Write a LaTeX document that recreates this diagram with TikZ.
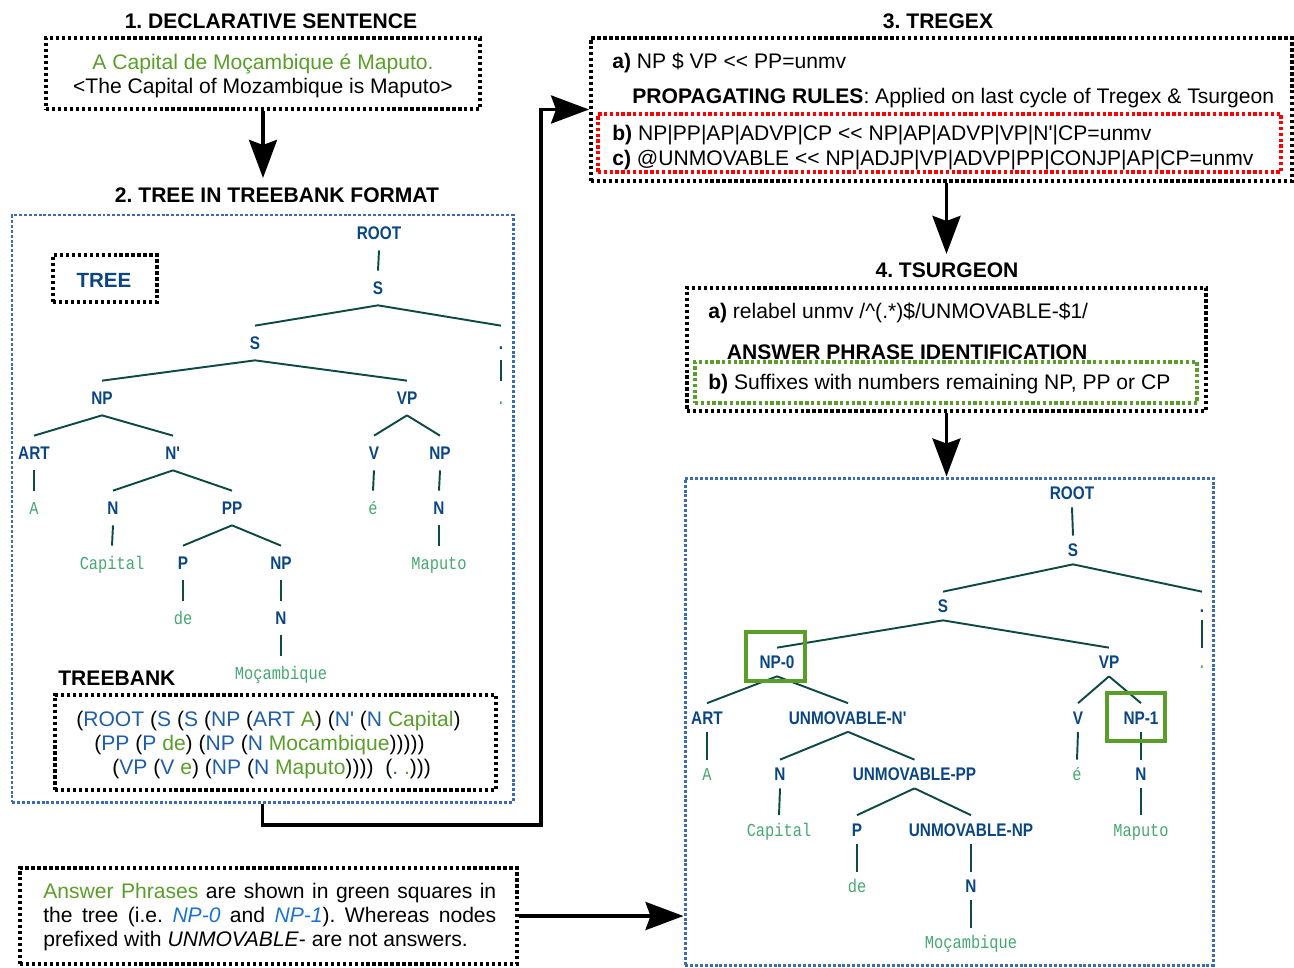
\documentclass[tikz,border=0pt]{standalone}
\usepackage{fontspec}
\setmainfont{Liberation Sans}
\newfontfamily\treefont{Liberation Sans}[FakeStretch=0.84]
\newfontfamily\leaffont{Liberation Mono}[FakeStretch=0.84]
\usetikzlibrary{arrows.meta,positioning}
\frenchspacing

\definecolor{tbblue}{HTML}{0B4684}
\definecolor{leafgreen}{HTML}{45A870}
\definecolor{edgeteal}{HTML}{0E4A44}
\definecolor{ansgreen}{HTML}{5A9E2A}
\definecolor{bankblue}{HTML}{1F5EA8}
\definecolor{boxblue}{HTML}{3A6CB4}
\definecolor{italblue}{HTML}{1A73D0}

\newcommand\apos{\XeTeXglyph\XeTeXcharglyph"27\relax}
\newcommand\tbl[1]{\textcolor{bankblue}{#1}}
\newcommand\tbw[1]{\textcolor{ansgreen}{#1}}

\tikzset{
  blkdot/.style={draw=black, line width=2.2pt, dash pattern=on 1.9pt off 1.5pt},
  bludot/.style={draw=boxblue, line width=1.7pt, dash pattern=on 1.7pt off 1.1pt},
  reddot/.style={draw=red, line width=1.9pt, dash pattern=on 1.9pt off 1.4pt},
  grndot/.style={draw=ansgreen, line width=1.9pt, dash pattern=on 1.9pt off 1.4pt},
  boxsize/.style 2 args={inner sep=0, minimum width=#1*0.02cm, minimum height=#2*0.02cm},
  txt/.style={inner sep=0, font=\fontsize{12}{14.4}\selectfont},
  heading/.style={inner sep=0, font=\fontsize{12}{14.4}\selectfont\bfseries},
  tnode/.style={inner sep=0, text height=7.4pt, text depth=0pt, minimum height=#1},
  tlab/.style={tnode=#1, font=\treefont\bfseries\fontsize{10.4}{12}\selectfont, text=tbblue},
  tleaf/.style={tnode=#1, font=\leaffont\fontsize{10.4}{12}\selectfont, text=leafgreen},
  lt/.style={tlab=0.68cm}, ll/.style={tleaf=0.68cm},
  rt/.style={tlab=0.56cm}, rl/.style={tleaf=0.56cm},
  tedge/.style={draw=edgeteal, line width=1.1pt},
  bigarrow/.style={line width=2pt, -{Stealth[length=0.76cm, width=0.56cm, inset=0.1cm]}},
  ansbox/.style={draw=ansgreen, line width=1.8pt},
}

\begin{document}
\begin{tikzpicture}[x=0.02cm, y=-0.02cm]
\useasboundingbox (0,0) rectangle (1294,967);

% 1. sentence
\node[heading, anchor=base] (t1) at (271,28) {1. DECLARATIVE SENTENCE};
\node[blkdot, boxsize={434}{71}] (decl) at (263,73.5) {};
\node[txt, anchor=base, text=ansgreen] (sentpt) at (263,69) {A Capital de Moçambique é Maputo.};
\node[txt, anchor=base] (senten) at (263,93) {<The Capital of Mozambique is Maputo>};

% 2. tree in treebank format
\node[heading, anchor=base] (t2) at (277,202) {2. TREE IN TREEBANK FORMAT};
\node[bludot, boxsize={501}{587}] (treebox) at (262.5,508.5) {};
\node[blkdot, boxsize={104}{47}] (treetag) at (105,278.5) {};
\node[inner sep=0, anchor=base, text=tbblue, font=\fontsize{11.7}{14}\selectfont\bfseries] (treelbl) at (104,287.5) {TREE};

\node[lt] (lroot) at (379,233) {ROOT};
\node[lt] (ls) at (378,288) {S};
\node[lt] (lss) at (255,343) {S};
\node[lt] (lpt) at (501,343) {.};
\node[ll] (lptw) at (501,398) {.};
\node[lt] (lnp) at (102,398) {NP};
\node[lt] (lvp) at (407,398) {VP};
\node[lt] (lart) at (34,453) {ART};
\node[lt] (lnbar) at (173,453) {N\apos};
\node[lt] (lv) at (374,453) {V};
\node[lt] (lnpm) at (440,453) {NP};
\node[ll] (la) at (34,508) {A};
\node[lt] (ln) at (113,508) {N};
\node[lt] (lpp) at (232,508) {PP};
\node[ll] (le) at (373,508) {é};
\node[lt] (lnm) at (439,508) {N};
\node[ll] (lcap) at (112,563) {Capital};
\node[lt] (lp) at (183,563) {P};
\node[lt] (lnpc) at (281,563) {NP};
\node[ll] (lmap) at (439,563) {Maputo};
\node[ll] (lde) at (183,618) {de};
\node[lt] (lnc) at (281,618) {N};
\node[ll] (lmoc) at (281,673) {Moçambique};
\foreach \p/\c in {lroot/ls, ls/lss, ls/lpt, lpt/lptw, lss/lnp, lss/lvp, lnp/lart, lnp/lnbar,
    lart/la, lnbar/ln, lnbar/lpp, ln/lcap, lpp/lp, lpp/lnpc, lp/lde, lnpc/lnc, lnc/lmoc,
    lvp/lv, lvp/lnpm, lv/le, lnpm/lnm, lnm/lmap}
  \draw[tedge] (\p.south) -- (\c.north);

\node[txt, anchor=base west, font=\fontsize{12}{14.4}\selectfont\bfseries] (tbtag) at (58,685) {TREEBANK};
\node[blkdot, boxsize={441}{95}] (tbbox) at (275.5,742.5) {};
\node[txt, anchor=base west] (tb1) at (76,726.7) {(\tbl{ROOT} (\tbl{S} (\tbl{S} (\tbl{NP} (\tbl{ART} \tbw{A}) (\tbl{N\apos} (\tbl{N} \tbw{Capital})};
\node[txt, anchor=base west] (tb2) at (94,750) {(\tbl{PP} (\tbl{P} \tbw{de}) (\tbl{NP} (\tbl{N} \tbw{Mocambique})))))};
\node[txt, anchor=base west] (tb3) at (112,774.3) {(\tbl{VP} (\tbl{V} \tbw{e}) (\tbl{NP} (\tbl{N} \tbw{Maputo}))))~ (\tbl{.} \tbw{.})))};

% 3. tregex
\node[heading, anchor=base] (t3) at (938,28) {3. TREGEX};
\node[blkdot, boxsize={701}{143}] (tregex) at (941.5,109.5) {};
\node[reddot, boxsize={683}{58}] (propbox) at (939.5,143) {};
\node[txt, anchor=base west] (rga) at (612,68.3) {\textbf{a)} NP \$ VP <{}< PP=unmv};
\node[txt, anchor=base west] (rgprop) at (632,103.3) {\textbf{PROPAGATING RULES}: Applied on last cycle of Tregex \& Tsurgeon};
\node[txt, anchor=base west] (rgb) at (612,140.7) {\textbf{b)} NP|PP|AP|ADVP|CP <{}< NP|AP|ADVP|VP|N\apos|CP=unmv};
\node[txt, anchor=base west] (rgc) at (612,165) {\textbf{c)} @UNMOVABLE <{}< NP|ADJP|VP|ADVP|PP|CONJP|AP|CP=unmv};

% 4. tsurgeon
\node[heading, anchor=base] (t4) at (947,277) {4. TSURGEON};
\node[blkdot, boxsize={519}{123}] (tsurg) at (946.5,349.5) {};
\node[grndot, boxsize={502}{41}] (apibox) at (946,382.5) {};
\node[txt, anchor=base west] (tsa) at (708,318.3) {\textbf{a)} relabel unmv /\textasciicircum(.*)\$/UNMOVABLE-\$1/};
\node[txt, anchor=base west] (tsapi) at (726.5,359) {\textbf{ANSWER PHRASE IDENTIFICATION}};
\node[txt, anchor=base west] (tsb) at (708,389.3) {\textbf{b)} Suffixes with numbers remaining NP, PP or CP};

% resulting tree
\node[bludot, boxsize={528}{487}] (rtree) at (949,721.5) {};
\node[rt] (rroot) at (1072,493) {ROOT};
\node[rt] (rs) at (1073,550) {S};
\node[rt] (rss) at (943,606) {S};
\node[rt] (rpt) at (1202,606) {.};
\node[rl] (rptw) at (1202,662) {.};
\node[rt] (rnp) at (777,662) {NP-0};
\node[rt] (rvp) at (1109,662) {VP};
\node[rt] (rart) at (707,717.5) {ART};
\node[rt] (rnbar) at (848,717.5) {UNMOVABLE-N\apos};
\node[rt] (rv) at (1078,717.5) {V};
\node[rt] (rnpm) at (1141,717.5) {NP-1};
\node[rl] (ra) at (707,774) {A};
\node[rt] (rn) at (780,774) {N};
\node[rt] (rpp) at (914.5,774) {UNMOVABLE-PP};
\node[rl] (re) at (1077,774) {é};
\node[rt] (rnm) at (1141,774) {N};
\node[rl] (rcap) at (779,829.5) {Capital};
\node[rt] (rp) at (857,829.5) {P};
\node[rt] (rnpc) at (971,829.5) {UNMOVABLE-NP};
\node[rl] (rmap) at (1141,829.5) {Maputo};
\node[rl] (rde) at (857,886) {de};
\node[rt] (rnc) at (971,886) {N};
\node[rl] (rmoc) at (971,942) {Moçambique};
\foreach \p/\c in {rroot/rs, rs/rss, rs/rpt, rpt/rptw, rss/rnp, rss/rvp, rnp/rart, rnp/rnbar,
    rart/ra, rnbar/rn, rnbar/rpp, rn/rcap, rpp/rp, rpp/rnpc, rp/rde, rnpc/rnc, rnc/rmoc,
    rvp/rv, rvp/rnpm, rv/re, rnpm/rnm, rnm/rmap}
  \draw[tedge] (\p.south) -- (\c.north);
\node[ansbox, boxsize={59}{49}] (sq0) at (775.5,656.5) {};
\node[ansbox, boxsize={58}{48}] (sq1) at (1136,717) {};

% note
\node[blkdot, boxsize={497}{96}] (note) at (268.5,916) {};
\node[inner sep=0, anchor=base west, text width=9.06cm, align=justify, font=\fontsize{12}{13.6}\selectfont] (notetxt) at (43,898.3)
  {\textcolor{ansgreen}{Answer Phrases} are shown in green squares in\linebreak the tree (i.e. \textit{\textcolor{italblue}{NP-0}} and \textit{\textcolor{italblue}{NP-1}}). Whereas nodes\linebreak prefixed with \textit{UNMOVABLE}- are not answers.};

% arrows
\draw[bigarrow] (decl.south) -- ++(0,67);
\draw[bigarrow] (treebox.south) |- (541,825) |- (tregex.west);
\draw[bigarrow] (tsurg.north |- tregex.south) -- ++(0,71);
\draw[bigarrow] (tsurg.south) -- (tsurg.south |- rtree.north);
\draw[bigarrow] (note.east) -- (note.east -| rtree.west);
\end{tikzpicture}
\end{document}
